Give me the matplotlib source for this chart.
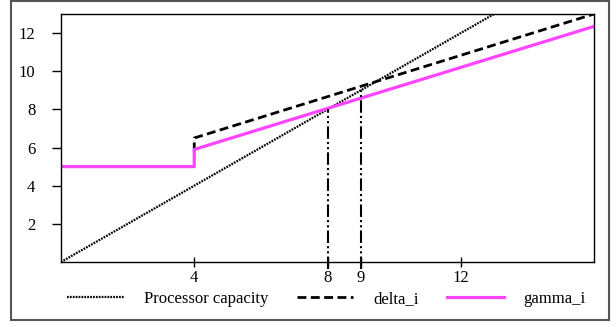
import matplotlib
matplotlib.use("Agg")
import matplotlib.pyplot as plt
from matplotlib.patches import Rectangle

# Data
cap_x = [0, 16]
cap_y = [0, 16]
delta_x = [4, 4, 16]
delta_y = [5.8, 6.5, 13.0]
gamma_x = [0, 4, 4, 16]
gamma_y = [5.0, 5.0, 5.9, 12.35]
marker_x = [8, 9]
marker_top = [8.0, 9.1]
xticks = [4, 8, 9, 12]
yticks = [2, 4, 6, 8, 10, 12]

plt.rcParams['font.family'] = ['Liberation Serif', 'DejaVu Serif']
plt.rcParams['font.size'] = 12

fig = plt.figure(figsize=(6.16, 3.27), dpi=100)
ax = fig.add_axes([61/616, 1-262/327, (594-61)/616, (262-14)/327])

ax.plot(cap_x, cap_y, color='black', lw=1.6, linestyle=(0, (0.8, 0.5)),
        label='Processor capacity')
ax.plot(delta_x, delta_y, color='black', lw=2.0, linestyle=(0, (3.2, 1.6)),
        label='delta_i')
ax.plot(gamma_x, gamma_y, color='#ff44ff', lw=2.3, label='gamma_i')
for mx, mt in zip(marker_x, marker_top):
    ax.plot([mx, mx], [-0.35, mt], color='black', lw=1.5,
            linestyle=(0, (6, 1.5, 1, 1.5, 1, 1.5)), clip_on=False)

ax.set_xlim(0, 16)
ax.set_ylim(0, 13)
ax.set_xticks(xticks)
ax.set_yticks(yticks)
ax.tick_params(axis='x', direction='inout', length=7.5, width=1, pad=2,
               labelsize=12, colors='black')
ax.tick_params(axis='y', direction='out', length=6.5, width=1, pad=12,
               labelsize=12)
for s in ax.spines.values():
    s.set_linewidth(1.0)

ax.legend(loc='center', bbox_to_anchor=(0.53, 0.086), bbox_transform=fig.transFigure,
          ncol=3, frameon=False, handlelength=3.4, handletextpad=1.2,
          columnspacing=1.7, fontsize=12)

fig.patches.append(Rectangle((11/616, 1-320/327), (609-11)/616, (319)/327,
                             transform=fig.transFigure, fill=False,
                             edgecolor='#555555', lw=1.5))

fig.savefig('out.png', dpi=100)
